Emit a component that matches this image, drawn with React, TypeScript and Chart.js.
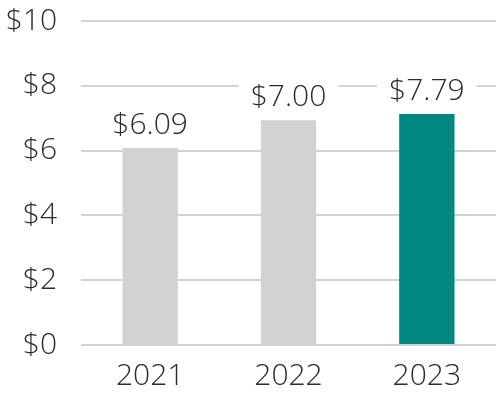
import React, { useEffect, useRef } from "react";
import { Chart, registerables } from "chart.js";

Chart.register(...registerables);

const categories = ["2021", "2022", "2023"];
const barValues = [6.08, 6.94, 7.13];
const valueLabels = ["$6.09", "$7.00", "$7.79"];
const barColors = ["#D1D2D4", "#D1D2D4", "#008782"];
const yTicks = [0, 2, 4, 6, 8, 10];

const FONT = "'Open Sans', sans-serif";
const TEXT = "#2b2b2b";

const labelPlugin = {
  id: "valueLabels",
  afterDatasetsDraw(chart: any) {
    const ctx = chart.ctx;
    const meta = chart.getDatasetMeta(0);
    ctx.save();
    ctx.font = `300 30px ${FONT}`;
    ctx.textAlign = "center";
    ctx.textBaseline = "bottom";
    meta.data.forEach((bar: any, i: number) => {
      const text = valueLabels[i];
      const w = ctx.measureText(text).width;
      const x = bar.x;
      const bottom = bar.y - 8;
      ctx.fillStyle = "#ffffff";
      ctx.fillRect(x - w / 2 - 12, bottom - 34, w + 24, 34);
      ctx.fillStyle = TEXT;
      ctx.fillText(text, x, bottom);
    });
    ctx.restore();
  },
};

export default function App() {
  const ref = useRef<HTMLCanvasElement>(null);
  useEffect(() => {
    document.body.style.margin = "0";
    const chart = new Chart(ref.current!, {
      type: "bar",
      data: {
        labels: categories,
        datasets: [
          {
            data: barValues,
            backgroundColor: barColors,
            barPercentage: 0.4,
            categoryPercentage: 1,
          },
        ],
      },
      options: {
        animation: false,
        responsive: false,
        maintainAspectRatio: false,
        layout: { padding: { top: 21, right: 0, bottom: 0, left: 0 } },
        plugins: { legend: { display: false }, tooltip: { enabled: false }, title: { display: false } },
        scales: {
          x: {
            grid: { display: false },
            border: { display: false },
            ticks: {
              color: TEXT,
              font: { family: FONT, size: 30, weight: "300" as any },
              padding: 5,
            },
            afterFit(scale: any) {
              scale.height = 50;
              scale.paddingTop = 0;
              scale.paddingBottom = 0;
            },
          },
          y: {
            min: 0,
            max: 10,
            afterBuildTicks(scale: any) {
              scale.ticks = yTicks.map((v) => ({ value: v }));
            },
            grid: { color: "#D2D2D2", lineWidth: 2, drawTicks: false },
            border: { display: false },
            ticks: {
              color: TEXT,
              font: { family: FONT, size: 30, weight: "300" as any },
              padding: 24,
              callback: (v: any) => "$" + v,
            },
            afterFit(scale: any) {
              scale.width = 81;
              scale.paddingTop = 0;
              scale.paddingBottom = 0;
            },
          },
        },
      },
      plugins: [labelPlugin],
    });
    return () => chart.destroy();
  }, []);
  return (
    <div style={{ position: "absolute", left: 0, top: 0, width: 496, height: 395 }}>
      <canvas ref={ref} width={496} height={395} />
    </div>
  );
}
